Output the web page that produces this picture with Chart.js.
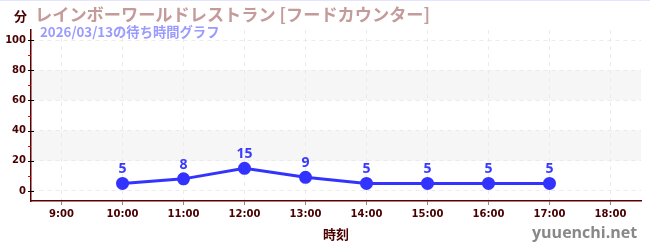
<!DOCTYPE html>
<html>
<head>
<meta charset="utf-8">
<script src="https://cdn.jsdelivr.net/npm/chart.js@4"></script>
<style>
  html, body { margin: 0; padding: 0; background: #fff; }
  #wrap { position: relative; width: 650px; height: 250px; border-top: 1px solid #e4e4ff; box-sizing: border-box; }
  canvas { position: absolute; left: 0; top: 0; }
  .txt { position: absolute; white-space: nowrap; font-family: "Noto Sans CJK JP", "Noto Sans", sans-serif; font-weight: bold; }
  #unit { left: 14px; top: 5px; font-size: 13px; color: #4a0000; }
  #title { left: 35px; top: 0px; font-size: 17.2px; color: #c49a9a; }
  #sub { left: 40px; top: 21px; font-size: 13.3px; color: #9a9aff; }
  #mark { left: 532px; top: 220px; font-size: 16px; color: #888; font-family: "Open Sans", "Noto Sans", sans-serif; }
</style>
</head>
<body>
<div id="wrap">
  <canvas id="c" width="650" height="250"></canvas>
  <div class="txt" id="unit">分</div>
  <div class="txt" id="title">レインボーワールドレストラン [フードカウンター]</div>
  <div class="txt" id="sub">2026/03/13の待ち時間グラフ</div>
  <div class="txt" id="mark">yuuenchi.net</div>
</div>
<script>
// wait times by hour
const hours = [10, 11, 12, 13, 14, 15, 16, 17];
const waits = [5, 8, 15, 9, 5, 5, 5, 5];
const xTicks = [9, 10, 11, 12, 13, 14, 15, 16, 17, 18];
const yTicks = [0, 20, 40, 60, 80, 100];
const yMinor = [10, 30, 50, 70, 90];
const bands = [[20, 40], [60, 80]];

const axisColor = '#5a0000';
const labelColor = '#4a0000';

// shaded bands, tick marks and value labels
const decor = {
  id: 'decor',
  beforeDraw(chart) {
    const { ctx, chartArea: a, scales: { y } } = chart;
    ctx.save();
    ctx.fillStyle = '#f6f6f6';
    bands.forEach(([lo, hi]) => {
      const t = y.getPixelForValue(hi), b = y.getPixelForValue(lo);
      ctx.fillRect(a.left, t, a.right - a.left, b - t);
    });
    ctx.restore();
  },
  afterDraw(chart) {
    const { ctx, chartArea: a, scales: { y } } = chart;
    ctx.save();
    ctx.lineWidth = 1;
    ctx.strokeStyle = '#000';
    yTicks.forEach(v => {
      const py = Math.round(y.getPixelForValue(v)) + 0.5;
      ctx.beginPath(); ctx.moveTo(a.left - 3, py); ctx.lineTo(a.left + 3, py); ctx.stroke();
    });
    ctx.strokeStyle = '#e00000';
    yMinor.forEach(v => {
      const py = Math.round(y.getPixelForValue(v)) + 0.5;
      ctx.beginPath(); ctx.moveTo(a.left - 3, py); ctx.lineTo(a.left, py); ctx.stroke();
    });
    // value labels
    const meta = chart.getDatasetMeta(0);
    ctx.fillStyle = '#3a3aff';
    ctx.font = 'bold 14px "Noto Sans", sans-serif';
    ctx.textAlign = 'center';
    ctx.textBaseline = 'bottom';
    meta.data.forEach((pt, i) => {
      ctx.fillText(String(waits[i]), pt.x, pt.y - 7);
    });
    ctx.restore();
  }
};

new Chart(document.getElementById('c'), {
  type: 'line',
  data: {
    datasets: [{
      data: hours.map((h, i) => ({ x: h, y: waits[i] })),
      borderColor: '#3333ff',
      backgroundColor: '#3333ff',
      borderWidth: 3,
      pointRadius: 5,
      pointHoverRadius: 5,
      tension: 0
    }]
  },
  options: {
    responsive: false,
    animation: false,
    events: [],
    layout: { padding: { top: 29, right: 9, left: 0, bottom: 9 } },
    plugins: { legend: { display: false }, tooltip: { enabled: false } },
    scales: {
      x: {
        type: 'linear',
        min: 8.5,
        max: 18.5,
        afterBuildTicks: s => { s.ticks = xTicks.map(v => ({ value: v })); },
        afterFit: s => { s.height = 41; },
        grid: { color: '#ebebeb', tickColor: '#888', tickLength: 4 },
        border: { color: axisColor, width: 1.5, dash: [4, 4] },
        ticks: {
          color: labelColor,
          font: { family: '"DejaVu Sans", sans-serif', size: 10, weight: 'bold' },
          padding: 3,
          maxRotation: 0,
          callback: v => v + ':00'
        },
        title: {
          display: true,
          text: '時刻',
          color: labelColor,
          font: { family: '"Noto Sans CJK JP", sans-serif', size: 13, weight: 'bold' },
          padding: { top: 4, bottom: 0 }
        }
      },
      y: {
        min: -6.67,
        max: 106.67,
        afterBuildTicks: s => { s.ticks = yTicks.map(v => ({ value: v })); },
        afterFit: s => { s.width = 31; },
        grid: { color: '#ebebeb', drawTicks: false },
        border: { color: axisColor, width: 1.5, dash: [4, 4] },
        ticks: {
          color: labelColor,
          font: { family: '"DejaVu Sans", sans-serif', size: 10, weight: 'bold' },
          padding: 5
        }
      }
    }
  },
  plugins: [decor]
});
</script>
</body>
</html>
